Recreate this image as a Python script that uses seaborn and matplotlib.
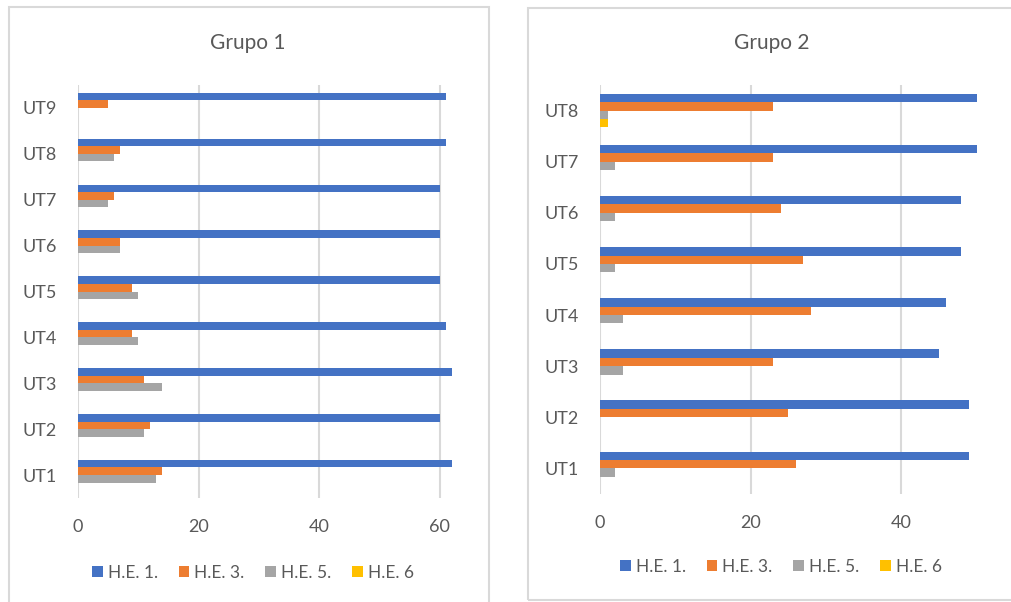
import matplotlib
matplotlib.use("Agg")
import matplotlib.pyplot as plt
from matplotlib.patches import Rectangle
import seaborn as sns
import pandas as pd

# ---- data ----
series = ["H.E. 1.", "H.E. 3.", "H.E. 5.", "H.E. 6"]
colors = ["#4472C4", "#ED7D31", "#A5A5A5", "#FFC000"]

g1_cats = ["UT9", "UT8", "UT7", "UT6", "UT5", "UT4", "UT3", "UT2", "UT1"]
g1_he1 = [61, 61, 60, 60, 60, 61, 62, 60, 62]
g1_he3 = [5, 7, 6, 7, 9, 9, 11, 12, 14]
g1_he5 = [0, 6, 5, 7, 10, 10, 14, 11, 13]
g1_he6 = [0, 0, 0, 0, 0, 0, 0, 0, 0]

g2_cats = ["UT8", "UT7", "UT6", "UT5", "UT4", "UT3", "UT2", "UT1"]
g2_he1 = [50, 50, 48, 48, 46, 45, 49, 49]
g2_he3 = [23, 23, 24, 27, 28, 23, 25, 26]
g2_he5 = [1, 2, 2, 2, 3, 3, 0, 2]
g2_he6 = [1, 0, 0, 0, 0, 0, 0, 0]

x_ticks = [0, 20, 40, 60]


def long_df(cats, cols):
    rows = []
    for s, vals in zip(series, cols):
        for c, v in zip(cats, vals):
            rows.append({"cat": c, "serie": s, "val": v})
    return pd.DataFrame(rows)


df1 = long_df(g1_cats, [g1_he1, g1_he3, g1_he5, g1_he6])
df2 = long_df(g2_cats, [g2_he1, g2_he3, g2_he5, g2_he6])

sns.set_theme(style="white")
plt.rcParams["font.family"] = ["Lato", "DejaVu Sans"]
TXT = "#595959"
GRID = "#D9D9D9"

W, H = 1011, 602
fig = plt.figure(figsize=(W / 100, H / 100), dpi=100)

# panel borders (chart-area frames)
fig.patches.append(Rectangle((9 / W, -0.02), (489 - 9) / W, 1.02 - 7 / H,
                             transform=fig.transFigure, fill=False,
                             edgecolor=GRID, linewidth=1.5))
fig.patches.append(Rectangle((528 / W, 1 - 600 / H), 0.5, (600 - 8) / H,
                             transform=fig.transFigure, fill=False,
                             edgecolor=GRID, linewidth=1.5))


def draw(ax, df, cats, xmax, title, title_x, leg_x, leg_y):
    sns.barplot(data=df, y="cat", x="val", hue="serie", order=cats,
                hue_order=series, palette=colors, orient="h", width=0.66,
                ax=ax, edgecolor="none", linewidth=0, saturation=1)
    ax.set_xlim(0, xmax)
    ax.set_xticks([t for t in x_ticks if t <= xmax])
    ax.set_xlabel("")
    ax.set_ylabel("")
    for sp in ax.spines.values():
        sp.set_visible(False)
    ax.grid(axis="x", color=GRID, linewidth=1.5)
    ax.grid(axis="y", visible=False)
    ax.set_axisbelow(True)
    ax.tick_params(axis="y", length=0, pad=15, labelsize=13, labelcolor=TXT)
    ax.tick_params(axis="x", length=0, pad=15, labelsize=13, labelcolor=TXT)
    handles, labels = ax.get_legend_handles_labels()
    ax.legend_.remove()
    fig.legend(handles, labels, loc="center", bbox_to_anchor=(leg_x / W, 1 - leg_y / H),
               ncol=4, frameon=False, fontsize=12.5, labelcolor=TXT,
               handlelength=0.6, handleheight=0.6, handletextpad=0.3,
               columnspacing=1.2)
    fig.text(title_x / W, 1 - 43 / H, title, ha="center", va="center",
             fontsize=15, color=TXT)


ax1 = fig.add_axes([78 / W, 1 - 498 / H, (66 * 6.03) / W, 413 / H])
draw(ax1, df1, g1_cats, 66, "Grupo 1", 248, 253, 573)

ax2 = fig.add_axes([600 / W, 1 - 494 / H, (52 * 7.53) / W, 409 / H])
draw(ax2, df2, g2_cats, 52, "Grupo 2", 772, 781, 567)

fig.savefig("out.png", dpi=100, facecolor="white")
